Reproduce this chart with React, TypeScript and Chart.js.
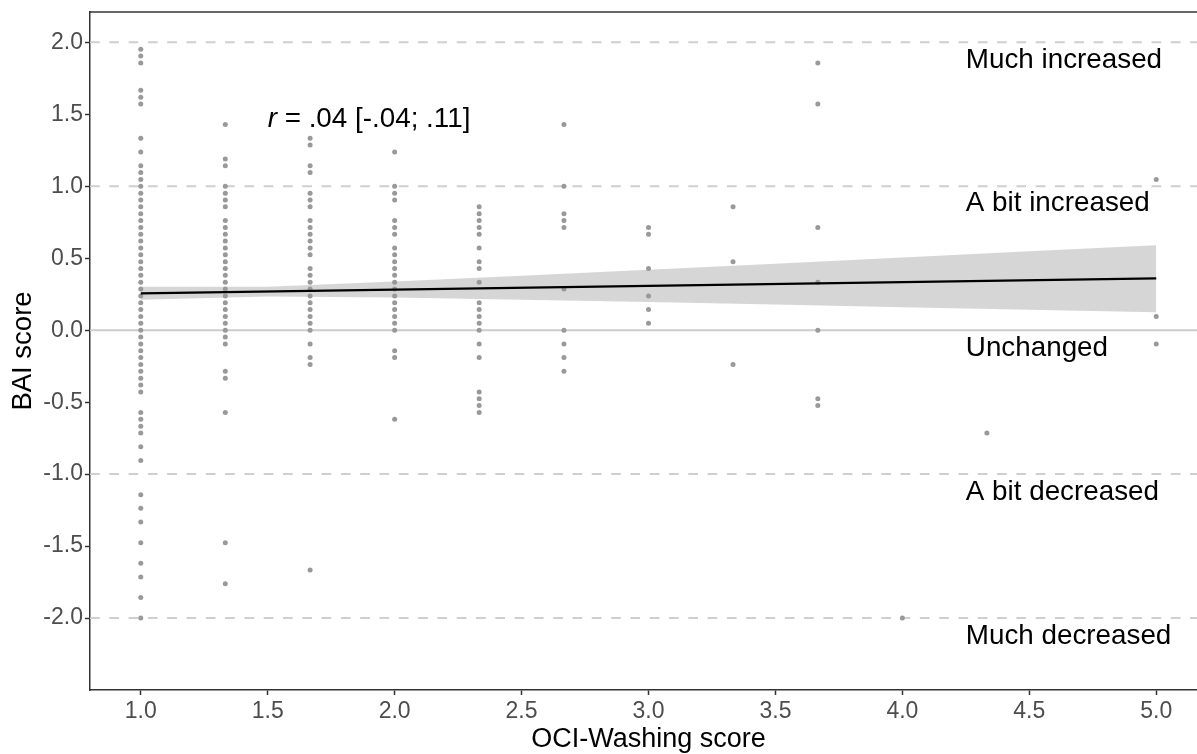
import React, { useEffect, useRef } from "react";
import { Chart, registerables } from "chart.js";

Chart.register(...registerables);

// ---- Data ----
const columnX = [1.0, 1.333, 1.667, 2.0, 2.333, 2.667, 3.0, 3.333, 3.667, 4.0, 4.333, 5.0];

const bai_x100 = [1.952, 1.905, 1.857, 1.667, 1.619, 1.571, 1.333, 1.238, 1.143, 1.095, 1.048, 1.0, 0.952, 0.905, 0.857, 0.81, 0.762, 0.714, 0.667, 0.619, 0.571, 0.524, 0.476, 0.429, 0.381, 0.333, 0.286, 0.238, 0.19, 0.143, 0.095, 0.048, 0, -0.048, -0.095, -0.143, -0.19, -0.238, -0.286, -0.333, -0.381, -0.429, -0.571, -0.619, -0.667, -0.714, -0.81, -0.905, -1.143, -1.238, -1.333, -1.476, -1.619, -1.714, -1.857, -2.0];
const bai_x133 = [1.429, 1.19, 1.143, 1.0, 0.952, 0.905, 0.857, 0.762, 0.714, 0.667, 0.619, 0.571, 0.524, 0.476, 0.429, 0.381, 0.333, 0.286, 0.238, 0.19, 0.143, 0.095, 0.048, 0, -0.048, -0.095, -0.286, -0.333, -0.571, -1.476, -1.762];
const bai_x167 = [1.333, 1.286, 1.143, 1.095, 0.952, 0.905, 0.857, 0.762, 0.714, 0.667, 0.619, 0.571, 0.524, 0.429, 0.381, 0.333, 0.286, 0.238, 0.19, 0.143, 0.095, 0.048, 0, -0.095, -0.19, -0.238, -1.667];
const bai_x200 = [1.238, 1.0, 0.952, 0.905, 0.762, 0.714, 0.667, 0.571, 0.524, 0.476, 0.429, 0.381, 0.333, 0.286, 0.238, 0.19, 0.143, 0.095, 0.048, 0, -0.143, -0.19, -0.619];
const bai_x233 = [0.857, 0.81, 0.762, 0.714, 0.667, 0.571, 0.476, 0.429, 0.333, 0.19, 0.143, 0.095, 0.048, 0, -0.095, -0.19, -0.429, -0.476, -0.524, -0.571];
const bai_x267 = [1.429, 1.0, 0.81, 0.762, 0.714, 0.286, 0, -0.095, -0.19, -0.286];
const bai_x300 = [0.714, 0.667, 0.429, 0.238, 0.143, 0.048];
const bai_x333 = [0.857, 0.476, -0.238];
const bai_x367 = [1.857, 1.571, 0.714, 0.333, 0, -0.476, -0.524];
const bai_x400 = [-2.0];
const bai_x433 = [-0.714];
const bai_x500 = [1.048, 0.095, -0.095];

const columnY = [bai_x100, bai_x133, bai_x167, bai_x200, bai_x233, bai_x267, bai_x300, bai_x333, bai_x367, bai_x400, bai_x433, bai_x500];

// regression line and confidence band
const fitX = [1.0, 5.0];
const fitY = [0.256, 0.36];
const bandX = [1.0, 1.5, 2.0, 2.5, 3.0, 3.5, 4.0, 4.5, 5.0];
const bandUpper = [0.302, 0.302, 0.338, 0.378, 0.42, 0.462, 0.505, 0.548, 0.59];
const bandLower = [0.212, 0.235, 0.228, 0.212, 0.196, 0.178, 0.16, 0.142, 0.124];

// reference lines
const dashedLevels = [2, 1, -1, -2];
const solidLevels = [0];

// category annotations
const categoryLabels = ["Much increased", "A bit increased", "Unchanged", "A bit decreased", "Much decreased"];
const categoryY = [1.825, 0.825, -0.18, -1.18, -2.18];
const categoryX = 4.25;

// correlation annotation
const corrItalic = "r";
const corrRest = " = .04 [-.04; .11]";
const corrX = 1.5;
const corrY = 1.41;

// axes
const xTickValues = [1.0, 1.5, 2.0, 2.5, 3.0, 3.5, 4.0, 4.5, 5.0];
const yTickValues = [-2.0, -1.5, -1.0, -0.5, 0.0, 0.5, 1.0, 1.5, 2.0];
const xMin = 0.8;
const xMax = 5.2;
const yMin = -2.5;
const yMax = 2.211;
const xTitle = "OCI-Washing score";
const yTitle = "BAI score";

const FONT = '"Liberation Sans", Arial, sans-serif';

export default function App() {
  const canvasRef = useRef<HTMLCanvasElement | null>(null);

  useEffect(() => {
    document.body.style.margin = "0";
    document.body.style.overflow = "hidden";
    const canvas = canvasRef.current;
    if (!canvas) return;

    const scatterSets = columnX.map((x, i) => ({
      type: "scatter" as const,
      data: columnY[i].map((y) => ({ x, y })),
      backgroundColor: "#999999",
      borderWidth: 0,
      pointRadius: 2.5,
      order: 5,
    }));

    const refSets = [
      ...dashedLevels.map((lv) => ({
        type: "line" as const,
        data: [{ x: xMin, y: lv }, { x: xMax, y: lv }],
        borderColor: "#CFCFCF",
        borderWidth: 2,
        borderDash: [9.7, 9.6],
        pointRadius: 0,
        fill: false,
        order: 9,
      })),
      ...solidLevels.map((lv) => ({
        type: "line" as const,
        data: [{ x: xMin, y: lv }, { x: xMax, y: lv }],
        borderColor: "#CCCCCC",
        borderWidth: 2,
        pointRadius: 0,
        fill: false,
        order: 9,
      })),
    ];

    const datasets: any[] = [...refSets, ...scatterSets];
    const upperIndex = datasets.length;
    datasets.push({
      type: "line",
      data: bandX.map((x, i) => ({ x, y: bandUpper[i] })),
      borderWidth: 0,
      borderColor: "rgba(0,0,0,0)",
      backgroundColor: "rgba(153,153,153,0.4)",
      pointRadius: 0,
      fill: upperIndex + 1,
      order: 2,
    });
    datasets.push({
      type: "line",
      data: bandX.map((x, i) => ({ x, y: bandLower[i] })),
      borderWidth: 0,
      borderColor: "rgba(0,0,0,0)",
      pointRadius: 0,
      fill: false,
      order: 2,
    });
    datasets.push({
      type: "line",
      data: fitX.map((x, i) => ({ x, y: fitY[i] })),
      borderColor: "#000000",
      borderWidth: 2.2,
      pointRadius: 0,
      fill: false,
      order: 1,
    });

    const overlay = {
      id: "overlay",
      afterDatasetsDraw(chart: any) {
        const { ctx, chartArea, scales } = chart;
        ctx.save();
        ctx.strokeStyle = "#333333";
        ctx.lineWidth = 1.5;
        ctx.beginPath();
        ctx.moveTo(chartArea.left, chartArea.top);
        ctx.lineTo(chartArea.right, chartArea.top);
        ctx.stroke();

        ctx.fillStyle = "#000000";
        ctx.textAlign = "left";
        ctx.textBaseline = "alphabetic";
        ctx.font = `27.8px ${FONT}`;
        categoryLabels.forEach((t, i) => {
          ctx.fillText(t, scales.x.getPixelForValue(categoryX), scales.y.getPixelForValue(categoryY[i]));
        });

        const px = scales.x.getPixelForValue(corrX);
        const py = scales.y.getPixelForValue(corrY);
        ctx.font = `italic 27.8px ${FONT}`;
        ctx.fillText(corrItalic, px, py);
        const w = ctx.measureText(corrItalic).width;
        ctx.font = `27.8px ${FONT}`;
        ctx.fillText(corrRest, px + w, py);
        ctx.restore();
      },
    };

    const chart = new Chart(canvas, {
      type: "scatter",
      data: { datasets },
      plugins: [overlay],
      options: {
        animation: false,
        responsive: false,
        devicePixelRatio: 1,
        layout: { padding: { top: 12, right: 8, left: 0, bottom: 0 } },
        plugins: {
          legend: { display: false },
          tooltip: { enabled: false },
        },
        scales: {
          x: {
            type: "linear",
            min: xMin,
            max: xMax,
            afterBuildTicks: (scale: any) => {
              scale.ticks = xTickValues.map((v) => ({ value: v }));
            },
            afterFit: (scale: any) => {
              scale.height = 64;
              scale.paddingLeft = 0;
              scale.paddingRight = 0;
            },
            ticks: {
              callback: (v: any) => Number(v).toFixed(1),
              color: "#4D4D4D",
              font: { family: FONT, size: 23 },
              padding: 3,
              maxRotation: 0,
            },
            grid: {
              drawOnChartArea: false,
              drawTicks: true,
              tickLength: 5,
              tickColor: "#333333",
              tickWidth: 1.5,
            },
            border: { display: true, color: "#333333", width: 1.5 },
            title: {
              display: true,
              text: xTitle,
              color: "#000000",
              font: { family: FONT, size: 27 },
              padding: { top: 0, bottom: -2 },
            },
          },
          y: {
            type: "linear",
            min: yMin,
            max: yMax,
            afterBuildTicks: (scale: any) => {
              scale.ticks = yTickValues.map((v) => ({ value: v }));
            },
            afterFit: (scale: any) => {
              scale.width = 90;
              scale.paddingTop = 0;
              scale.paddingBottom = 0;
            },
            ticks: {
              callback: (v: any) => Number(v).toFixed(1),
              color: "#4D4D4D",
              font: { family: FONT, size: 23 },
              padding: 2,
            },
            grid: {
              drawOnChartArea: false,
              drawTicks: true,
              tickLength: 5,
              tickColor: "#333333",
              tickWidth: 1.5,
            },
            border: { display: true, color: "#333333", width: 1.5 },
            title: {
              display: true,
              text: yTitle,
              color: "#000000",
              font: { family: FONT, size: 27.5 },
              padding: { top: 7, bottom: 0 },
            },
          },
        },
      },
    });

    return () => {
      chart.destroy();
    };
  }, []);

  return (
    <div style={{ width: 1215, height: 754, position: "relative" }}>
      <canvas ref={canvasRef} width={1215} height={754} style={{ display: "block" }} />
    </div>
  );
}
